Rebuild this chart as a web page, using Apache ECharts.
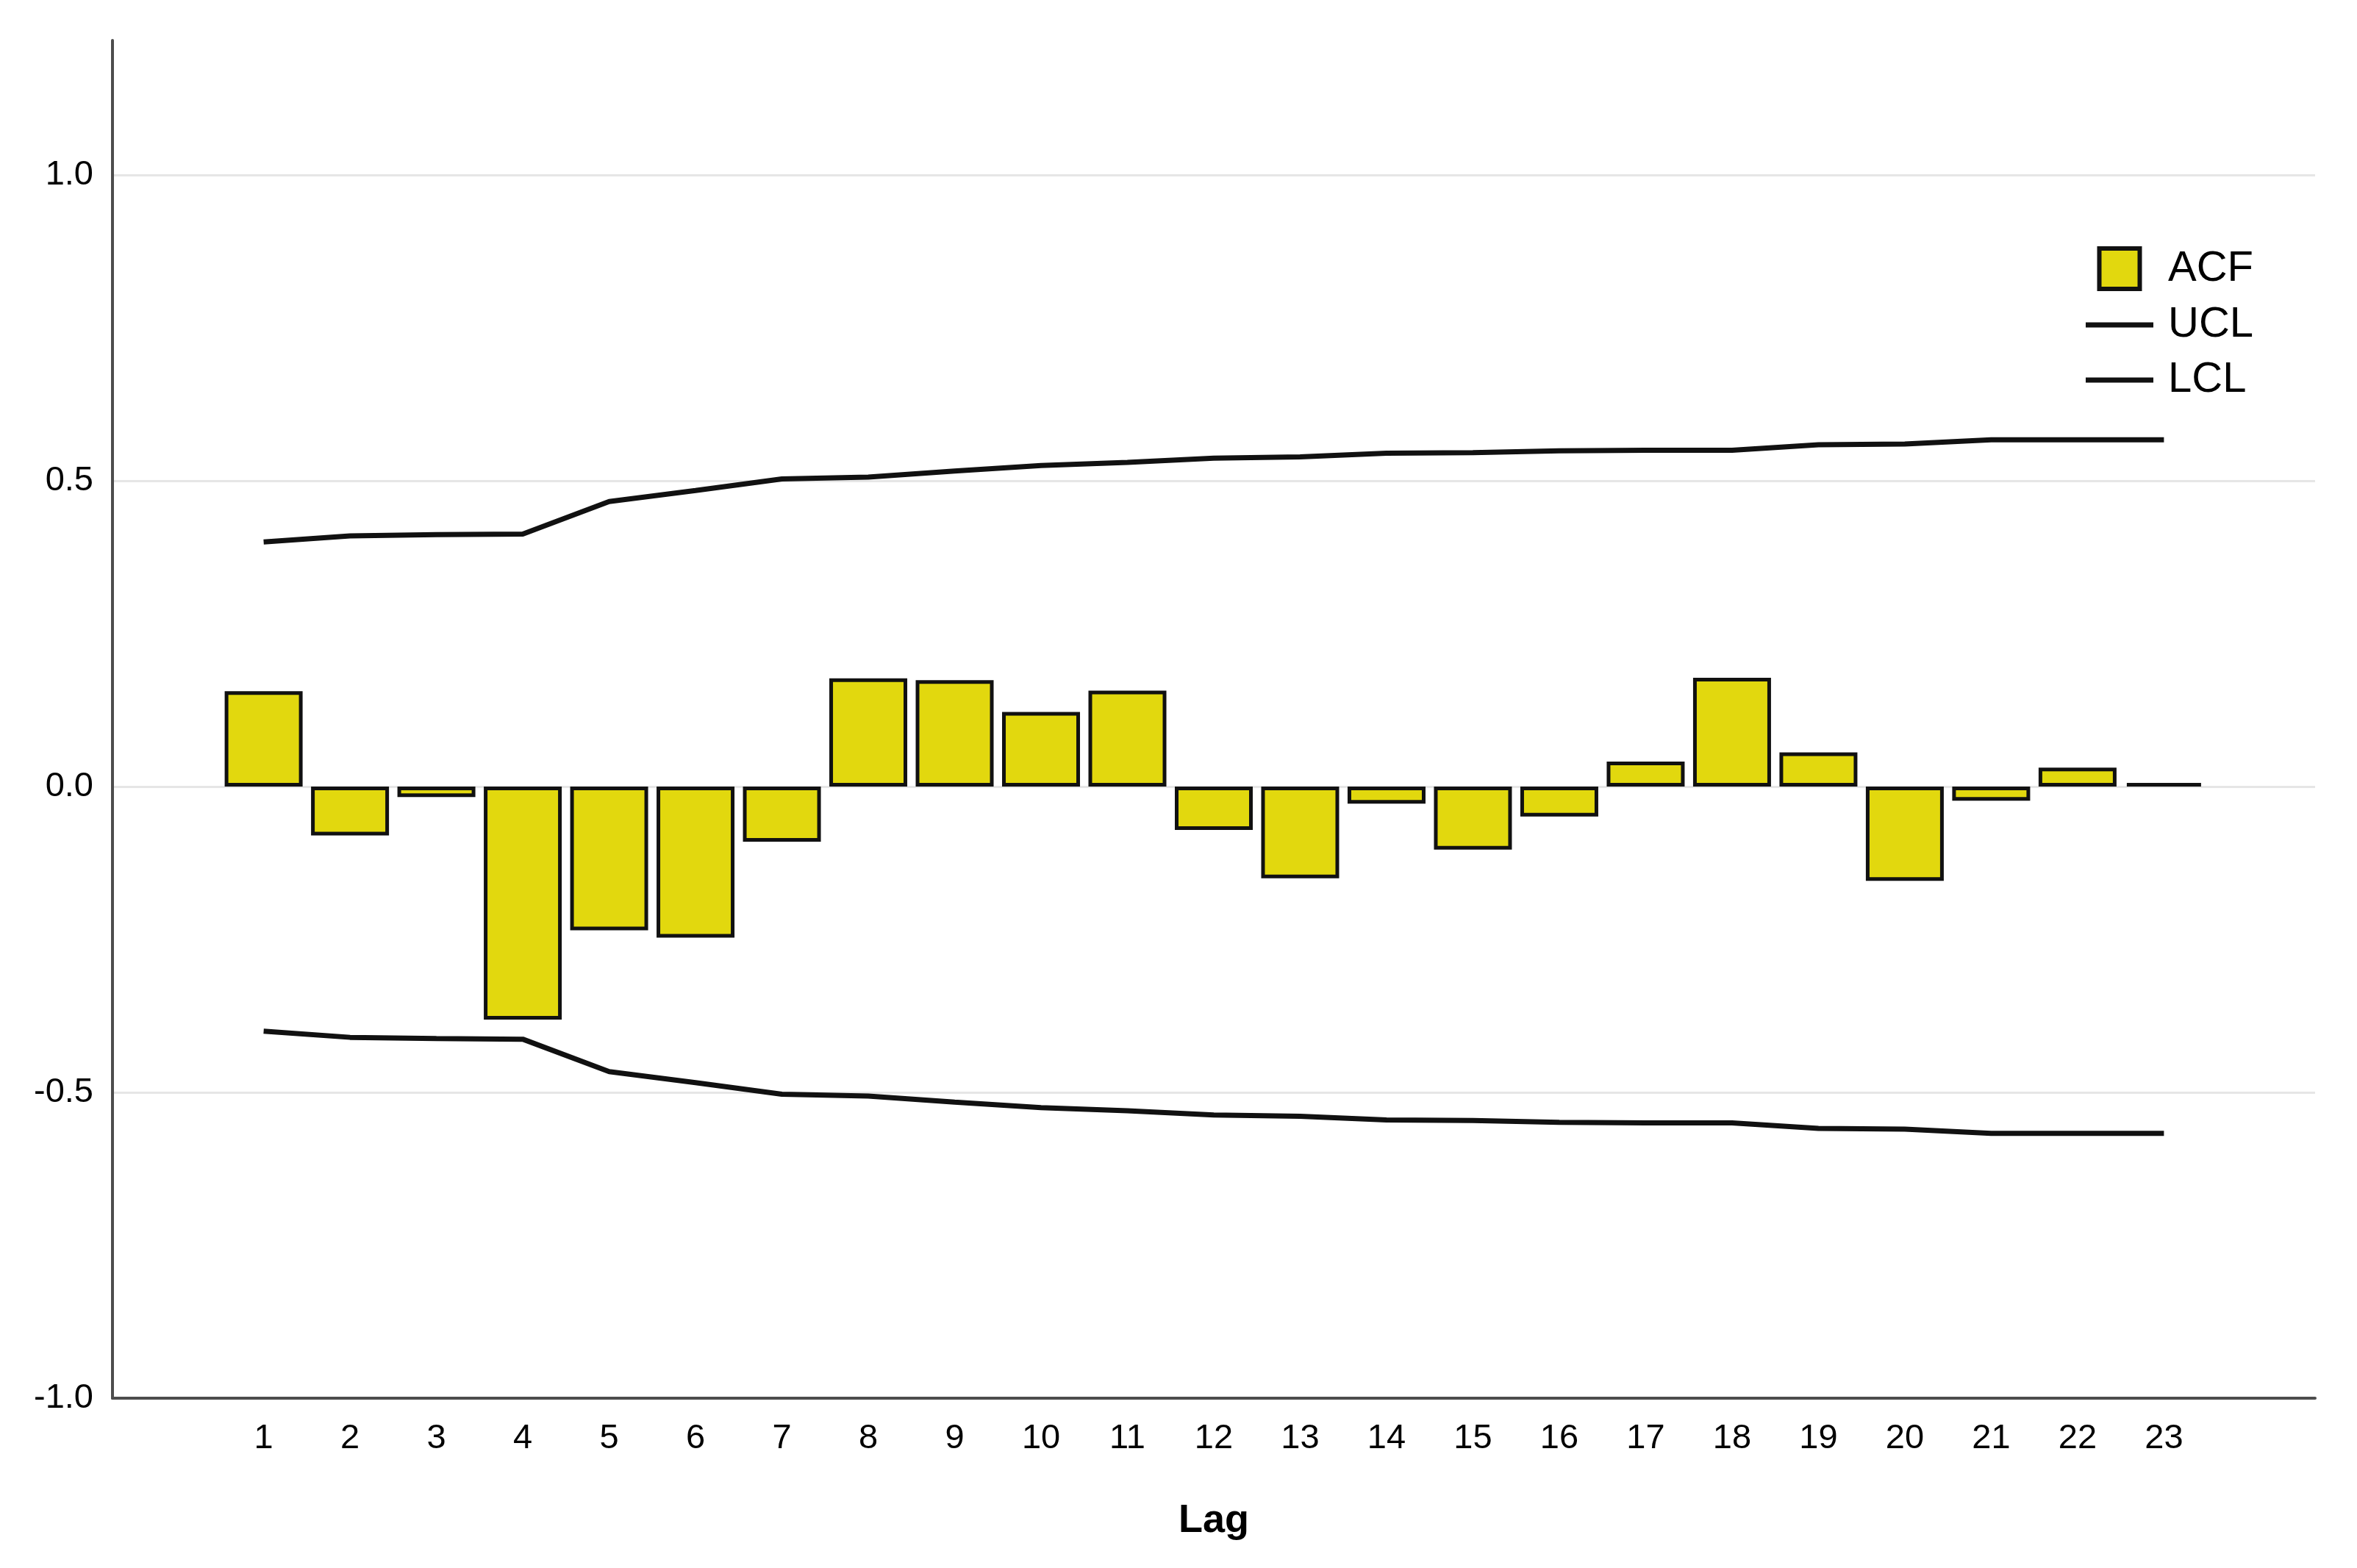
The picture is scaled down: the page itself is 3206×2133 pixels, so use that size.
<!DOCTYPE html>
<html>
<head>
<meta charset="utf-8">
<title>ACF</title>
<script src="https://cdn.jsdelivr.net/npm/echarts@6.0.0/dist/echarts.min.js"></script>
<style>
  html, body { margin: 0; padding: 0; background: #fff; }
  #chart { width: 3206px; height: 2133px; }
</style>
</head>
<body>
<div id="chart"></div>
<script>
// lags shown on the x axis
var lags = [1,2,3,4,5,6,7,8,9,10,11,12,13,14,15,16,17,18,19,20,21,22,23];

// autocorrelation per lag
var acf = [0.156,-0.080,-0.017,-0.381,-0.235,-0.247,-0.090,0.177,0.174,0.122,0.157,
           -0.071,-0.150,-0.028,-0.103,-0.049,0.041,0.178,0.056,-0.154,-0.023,0.031,0.006];

// upper / lower confidence limits
var ucl = [0.400,0.410,0.412,0.413,0.466,0.484,0.503,0.506,0.516,0.525,0.530,0.537,
           0.539,0.545,0.546,0.549,0.550,0.550,0.559,0.560,0.567,0.567,0.567];
var lcl = [-0.400,-0.410,-0.412,-0.413,-0.466,-0.484,-0.503,-0.506,-0.516,-0.525,-0.530,-0.537,
           -0.539,-0.545,-0.546,-0.549,-0.550,-0.550,-0.559,-0.560,-0.567,-0.567,-0.567];

var yTicks = [-1.0,-0.5,0.0,0.5,1.0];

function pairs(xs, ys) {
  return xs.map(function (x, i) { return [x, ys[i]]; });
}

var font = 'Liberation Sans, Arial, sans-serif';
var lineIcon = 'path://M0 0H92V7H0Z';

var option = {
  animation: false,
  backgroundColor: '#ffffff',
  textStyle: { fontFamily: font },
  grid: { left: 153, right: 57, top: 55, bottom: 231, containLabel: false },
  legend: {
    orient: 'vertical',
    left: 2832,
    top: 330,
    itemWidth: 92,
    itemHeight: 55,
    itemGap: 17,
    textStyle: { fontSize: 58, color: '#000', fontFamily: font, padding: [0, 0, 0, 15] },
    data: [
      { name: 'ACF', icon: 'path://M0 0H10V10H0Z',
        itemStyle: { color: '#e2d80e', borderColor: '#111', borderWidth: 6 } },
      { name: 'UCL', icon: lineIcon },
      { name: 'LCL', icon: lineIcon }
    ]
  },
  xAxis: {
    type: 'value',
    min: -0.75,
    max: 24.75,
    interval: 0.25,
    name: 'Lag',
    nameLocation: 'middle',
    nameGap: 140,
    nameTextStyle: { fontSize: 54, fontWeight: 'bold', color: '#000', fontFamily: font },
    axisLine: { show: true, onZero: false, lineStyle: { color: '#4d4d4d', width: 4 } },
    axisTick: { show: false },
    splitLine: { show: false },
    axisLabel: {
      fontSize: 47,
      color: '#000',
      margin: 32,
      formatter: function (v) {
        var r = Math.round(v);
        return (Math.abs(v - r) < 1e-6 && lags.indexOf(r) >= 0) ? String(r) : '';
      }
    }
  },
  yAxis: {
    type: 'value',
    min: -1.0,
    max: 1.22,
    interval: 0.5,
    axisLine: { show: true, onZero: false, lineStyle: { color: '#4d4d4d', width: 4 } },
    axisTick: { show: false },
    splitLine: { show: true, showMaxLine: false, lineStyle: { color: '#e6e6e6', width: 3 } },
    axisLabel: {
      fontSize: 47,
      color: '#000',
      margin: 26,
      showMaxLabel: false,
      formatter: function (v) {
        for (var i = 0; i < yTicks.length; i++) {
          if (Math.abs(v - yTicks[i]) < 1e-6) return yTicks[i].toFixed(1);
        }
        return '';
      }
    }
  },
  series: [
    {
      name: 'ACF',
      type: 'bar',
      barWidth: 106,
      data: pairs(lags, acf),
      itemStyle: { color: '#e2d80e', borderColor: '#111', borderWidth: 5 }
    },
    {
      name: 'UCL',
      type: 'line',
      symbol: 'none',
      data: pairs(lags, ucl),
      lineStyle: { color: '#111', width: 7 },
      itemStyle: { color: '#111' }
    },
    {
      name: 'LCL',
      type: 'line',
      symbol: 'none',
      data: pairs(lags, lcl),
      lineStyle: { color: '#111', width: 7 },
      itemStyle: { color: '#111' }
    }
  ]
};

var chart = echarts.init(document.getElementById('chart'), null, { renderer: 'canvas' });
chart.setOption(option);
</script>
</body>
</html>
